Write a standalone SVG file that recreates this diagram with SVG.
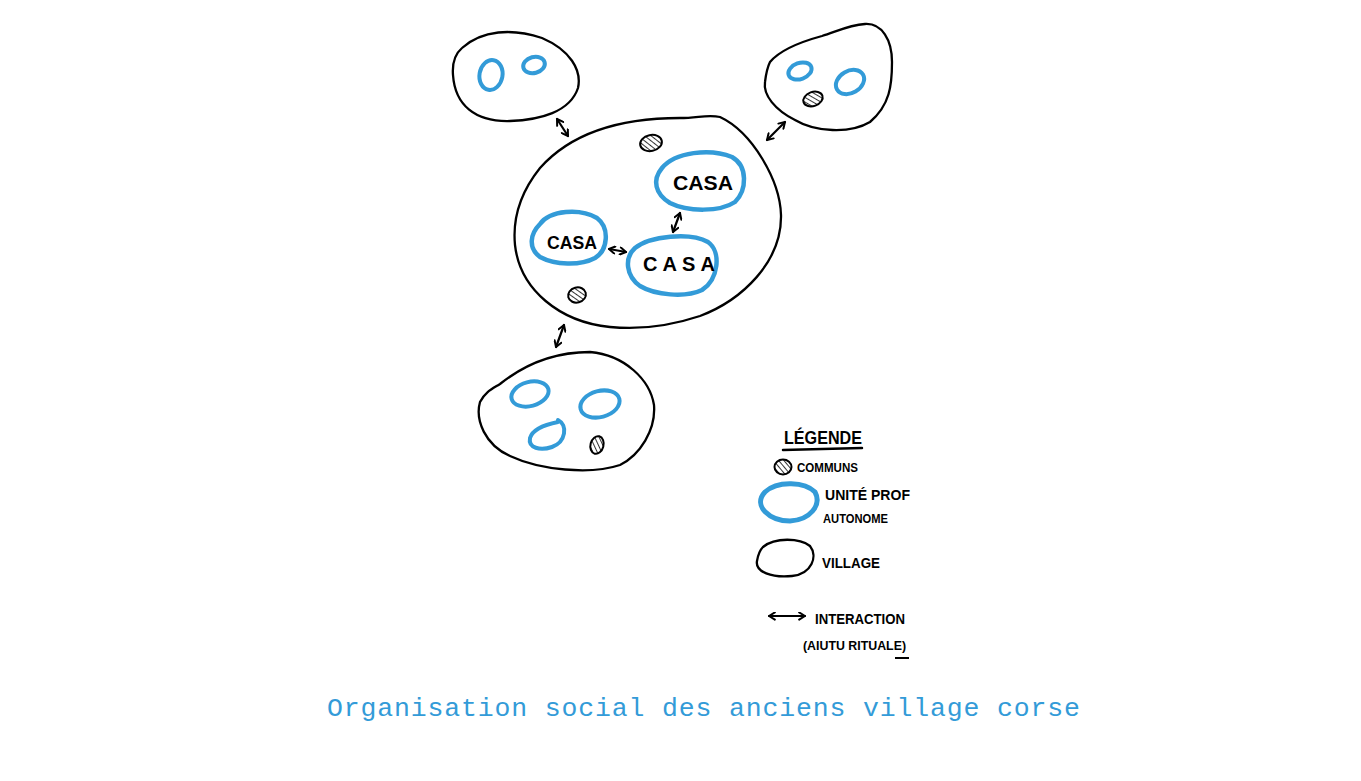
<svg xmlns="http://www.w3.org/2000/svg" width="1361" height="781" viewBox="0 0 1361 781">
<style>
.village{fill:none;stroke:#000;stroke-width:2.3;stroke-linecap:round;stroke-linejoin:round}
.unit{fill:none;stroke:#339bd8;stroke-width:4.5;stroke-linecap:round}
.unitsm{fill:none;stroke:#339bd8;stroke-width:4;stroke-linecap:round}
.commun{fill:url(#hatch);stroke:#000;stroke-width:2}
.arr{fill:none;stroke:#000;stroke-width:2.2;stroke-linecap:round;marker-start:url(#ah);marker-end:url(#ah)}
.hand{font-family:"Liberation Sans",Arial,sans-serif;font-weight:bold;fill:#000}
.caption{font-family:"Liberation Mono","DejaVu Sans Mono",monospace;fill:#339bd8}
</style>
<defs>
<pattern id="hatch" patternUnits="userSpaceOnUse" width="4" height="4" patternTransform="rotate(-40)">
<rect width="4" height="4" fill="#fff"/>
<line x1="0" y1="0" x2="0" y2="4" stroke="#000" stroke-width="1.6"/>
</pattern>
<marker id="ah" viewBox="0 0 10 10" refX="8.5" refY="5" markerWidth="9" markerHeight="9" orient="auto-start-reverse" markerUnits="userSpaceOnUse">
<path d="M2,1 L8.5,5 L2,9" fill="none" stroke="#000" stroke-width="2.2" stroke-linecap="round" stroke-linejoin="round"/>
</marker>
</defs>

<g id="village-center">
<path class="village" d="M540,168 C572,132 622,118 680,118 C698,118 708,114 720,117 C752,132 780,180 781,215 C782,262 742,300 700,316 C670,326 640,330 610,327 C560,322 520,290 515,245 C512,214 524,188 540,168 Z"/>
<ellipse class="commun" cx="651" cy="143" rx="11" ry="8" transform="rotate(-12 651 143)"/>
<ellipse class="commun" cx="577" cy="295" rx="9" ry="7.5" transform="rotate(-15 577 295)"/>
</g>

<g id="casa-1">
<path class="unit" d="M662,168 C675,152 710,148 732,157 C748,166 747,190 735,202 C720,212 688,212 670,203 C655,194 652,180 662,168 Z"/>
<text class="hand" x="703" y="190" font-size="20" text-anchor="middle" textLength="60" lengthAdjust="spacingAndGlyphs">CASA</text>
</g>
<g id="casa-2">
<path class="unit" d="M540,224 C550,210 580,208 597,218 C610,228 608,250 595,258 C580,266 555,265 540,257 C528,248 530,234 540,224 Z"/>
<text class="hand" x="572" y="249" font-size="19" text-anchor="middle" textLength="50" lengthAdjust="spacingAndGlyphs">CASA</text>
</g>
<g id="casa-3">
<path class="unit" d="M635,248 C650,236 690,232 708,242 C722,252 718,280 702,290 C685,298 655,295 640,286 C626,276 624,258 635,248 Z"/>
<text class="hand" x="679" y="271" font-size="20" text-anchor="middle" textLength="72" lengthAdjust="spacing">CASA</text>
</g>

<g id="village-top-left">
<path class="village" d="M462,48 C482,30 512,28 542,38 C570,50 582,70 578,88 C570,112 540,120 510,121 C475,122 455,105 453,75 C452,62 455,54 462,48 Z"/>
<ellipse class="unitsm" cx="491" cy="75" rx="11.5" ry="15" transform="rotate(10 491 75)"/>
<ellipse class="unitsm" cx="534" cy="65" rx="11" ry="8" transform="rotate(-15 534 65)"/>
</g>

<g id="village-top-right">
<path class="village" d="M770,62 C780,50 800,42 822,36 C840,30 850,25 865,24 C882,23 892,40 892,62 C892,85 890,105 870,122 C850,134 815,132 795,120 C775,110 763,95 765,82 C766,74 767,68 770,62 Z"/>
<ellipse class="unitsm" cx="800" cy="71" rx="12" ry="8" transform="rotate(-20 800 71)"/>
<ellipse class="unitsm" cx="850" cy="82" rx="15" ry="11" transform="rotate(-30 850 82)"/>
<ellipse class="commun" cx="813" cy="99" rx="10" ry="7" transform="rotate(-20 813 99)"/>
</g>

<g id="village-bottom">
<path class="village" d="M500,384 C530,360 560,352 590,352 C625,355 650,380 654,405 C656,430 640,455 620,465 C590,475 540,470 510,456 C485,445 475,420 480,402 C485,392 492,389 500,384 Z"/>
<ellipse class="unitsm" cx="530" cy="394" rx="19" ry="12" transform="rotate(-15 530 394)"/>
<ellipse class="unitsm" cx="600" cy="404" rx="20" ry="13" transform="rotate(-15 600 404)"/>
<path class="unitsm" d="M558,420 C568,425 566,442 552,447 C540,451 528,448 530,438 C533,428 548,424 558,422"/>
<ellipse class="commun" cx="597" cy="445" rx="6.5" ry="9" transform="rotate(15 597 445)"/>
</g>

<g id="connectors">
<line class="arr" x1="557" y1="119" x2="568" y2="136"/>
<line class="arr" x1="785" y1="122" x2="767" y2="140"/>
<line class="arr" x1="564" y1="325" x2="556" y2="347"/>
<line class="arr" x1="680" y1="213" x2="673" y2="232"/>
<line class="arr" x1="609" y1="249" x2="626" y2="252"/>
</g>

<g id="legend">
<text class="hand" x="784" y="444" font-size="18" textLength="78" lengthAdjust="spacingAndGlyphs">LÉGENDE</text>
<path d="M783,450 L862,448" fill="none" stroke="#000" stroke-width="2.5" stroke-linecap="round"/>
<ellipse class="commun" cx="783" cy="467" rx="8.5" ry="7.5"/>
<text class="hand" x="797" y="472" font-size="12" textLength="61" lengthAdjust="spacingAndGlyphs">COMMUNS</text>
<path d="M765,492 C778,480 805,482 815,492 C822,505 810,520 790,521 C770,521 752,506 765,492 Z" fill="none" stroke="#339bd8" stroke-width="5"/>
<text class="hand" x="825" y="500" font-size="15" textLength="85" lengthAdjust="spacingAndGlyphs">UNITÉ PROF</text>
<text class="hand" x="823" y="523" font-size="13" textLength="65" lengthAdjust="spacingAndGlyphs">AUTONOME</text>
<path class="village" d="M763,547 C775,537 800,538 810,546 C818,556 812,574 792,576 C772,578 755,572 757,561 C758,555 760,550 763,547 Z"/>
<text class="hand" x="822" y="568" font-size="15" textLength="58" lengthAdjust="spacingAndGlyphs">VILLAGE</text>
<line class="arr" x1="769" y1="616" x2="805" y2="616"/>
<text class="hand" x="815" y="624" font-size="15" textLength="90" lengthAdjust="spacingAndGlyphs">INTERACTION</text>
<text class="hand" x="803" y="650" font-size="12" textLength="103" lengthAdjust="spacingAndGlyphs">(AIUTU RITUALE)</text>
<line x1="895" y1="658" x2="909" y2="658" stroke="#000" stroke-width="2"/>
</g>

<text id="caption" class="caption" x="327" y="716" font-size="26.5" textLength="753" lengthAdjust="spacing">Organisation social des anciens village corse</text>
</svg>
